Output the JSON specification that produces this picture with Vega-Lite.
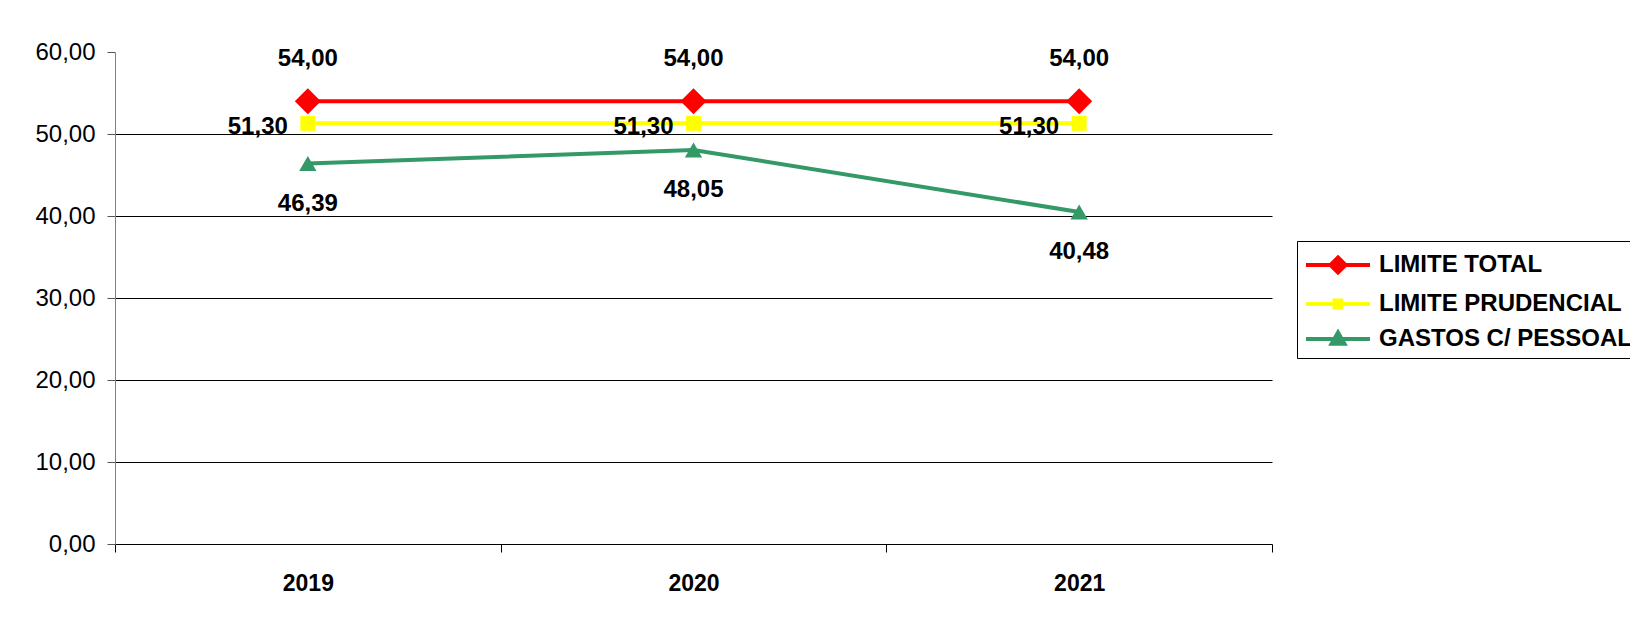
{
  "$schema": "https://vega.github.io/schema/vega-lite/v6.json",
  "width": 1157,
  "height": 492,
  "autosize": {"type": "none"},
  "padding": {"left": 115, "top": 52, "right": 358, "bottom": 73},
  "background": "white",
  "config": {
    "locale": {"number": {"decimal": ",", "thousands": ".", "grouping": [3], "currency": ["R$", ""]}},
    "view": {"stroke": null},
    "font": "Liberation Sans"
  },
  "data": {
    "values": [
      {"serie": "LIMITE TOTAL", "ano": "2019", "valor": 54.0},
      {"serie": "LIMITE TOTAL", "ano": "2020", "valor": 54.0},
      {"serie": "LIMITE TOTAL", "ano": "2021", "valor": 54.0},
      {"serie": "LIMITE PRUDENCIAL", "ano": "2019", "valor": 51.3},
      {"serie": "LIMITE PRUDENCIAL", "ano": "2020", "valor": 51.3},
      {"serie": "LIMITE PRUDENCIAL", "ano": "2021", "valor": 51.3},
      {"serie": "GASTOS C/ PESSOAL", "ano": "2019", "valor": 46.39},
      {"serie": "GASTOS C/ PESSOAL", "ano": "2020", "valor": 48.05},
      {"serie": "GASTOS C/ PESSOAL", "ano": "2021", "valor": 40.48}
    ]
  },
  "encoding": {
    "x": {
      "field": "ano", "type": "ordinal", "title": null,
      "scale": {"paddingInner": 0, "paddingOuter": 0},
      "axis": {
        "labelAngle": 0, "tickBand": "extent", "labelFont": "Liberation Sans", "labelFontSize": 23,
        "labelFontWeight": "bold", "labelColor": "#000", "labelPadding": 20, "tickSize": 8,
        "tickColor": "#000", "domainColor": "#000", "grid": false
      }
    },
    "y": {
      "field": "valor", "type": "quantitative", "title": null,
      "scale": {"domain": [0, 60], "nice": false},
      "axis": {
        "values": [0, 10, 20, 30, 40, 50, 60], "format": ".2f",
        "labelFont": "Liberation Sans", "labelFontSize": 24, "labelColor": "#000",
        "labelPadding": 12, "tickSize": 8, "tickColor": "#555", "domainColor": "#808080",
        "grid": true,
        "gridColor": {"condition": {"test": "datum.value === 60 || datum.value === 0", "value": "transparent"}, "value": "#000"},
        "gridOpacity": 1
      }
    }
  },
  "layer": [
    {
      "mark": {"type": "line", "strokeWidth": 4},
      "encoding": {
        "color": {
          "field": "serie", "type": "nominal",
          "scale": {"domain": ["LIMITE TOTAL", "LIMITE PRUDENCIAL", "GASTOS C/ PESSOAL"], "range": ["#FF0000", "#FFFF00", "#339966"]},
          "legend": {
            "title": null, "orient": "none", "legendX": 1182, "legendY": 189,
            "direction": "vertical",
            "strokeColor": "#000", "fillColor": "white", "padding": 6,
            "symbolSize": 1024, "symbolOffset": 17, "labelOffset": 23, "rowPadding": 5,
            "labelFont": "Liberation Sans", "labelFontSize": 24, "labelFontWeight": "bold", "labelColor": "#000",
            "labelLimit": 0,
            "encode": {
              "symbols": {
                "update": {
                  "shape": {"signal": "datum.value === 'LIMITE TOTAL' ? 'M-2,0L2,0M0,-0.47L0.47,0L0,0.47L-0.47,0Z' : datum.value === 'LIMITE PRUDENCIAL' ? 'M-2,0L2,0M-0.22,-0.22L0.22,-0.22L0.22,0.22L-0.22,0.22Z' : 'M-2,0L2,0M0,-0.4L0.4,0.3L-0.4,0.3Z'"},
                  "fill": {"scale": "color", "field": "value"},
                  "stroke": {"scale": "color", "field": "value"},
                  "strokeWidth": {"value": 4},
                  "size": {"value": 1024},
                  "opacity": {"value": 1},
                  "fillOpacity": {"value": 1}
                }
              }
            }
          }
        }
      }
    },
    {
      "transform": [{"filter": "datum.serie === 'LIMITE TOTAL'"}],
      "mark": {"type": "point", "filled": true, "opacity": 1, "shape": "diamond", "size": 676, "color": "#FF0000"}
    },
    {
      "transform": [{"filter": "datum.serie === 'LIMITE PRUDENCIAL'"}],
      "mark": {"type": "point", "filled": true, "opacity": 1, "shape": "square", "size": 225, "color": "#FFFF00"}
    },
    {
      "transform": [{"filter": "datum.serie === 'GASTOS C/ PESSOAL'"}],
      "mark": {"type": "point", "filled": true, "opacity": 1, "shape": "triangle-up", "size": 300, "color": "#339966"}
    },
    {
      "transform": [{"filter": "datum.serie === 'LIMITE TOTAL'"}],
      "mark": {"type": "text", "dy": -42, "font": "Liberation Sans", "fontSize": 24, "fontWeight": "bold", "color": "#000", "baseline": "middle"},
      "encoding": {"text": {"field": "valor", "type": "quantitative", "format": ".2f"}}
    },
    {
      "transform": [{"filter": "datum.serie === 'LIMITE PRUDENCIAL'"}],
      "mark": {"type": "text", "dx": -20, "dy": 4, "align": "right", "font": "Liberation Sans", "fontSize": 24, "fontWeight": "bold", "color": "#000", "baseline": "middle"},
      "encoding": {"text": {"field": "valor", "type": "quantitative", "format": ".2f"}}
    },
    {
      "transform": [{"filter": "datum.serie === 'GASTOS C/ PESSOAL'"}],
      "mark": {"type": "text", "dy": 40, "font": "Liberation Sans", "fontSize": 24, "fontWeight": "bold", "color": "#000", "baseline": "middle"},
      "encoding": {"text": {"field": "valor", "type": "quantitative", "format": ".2f"}}
    }
  ]
}
